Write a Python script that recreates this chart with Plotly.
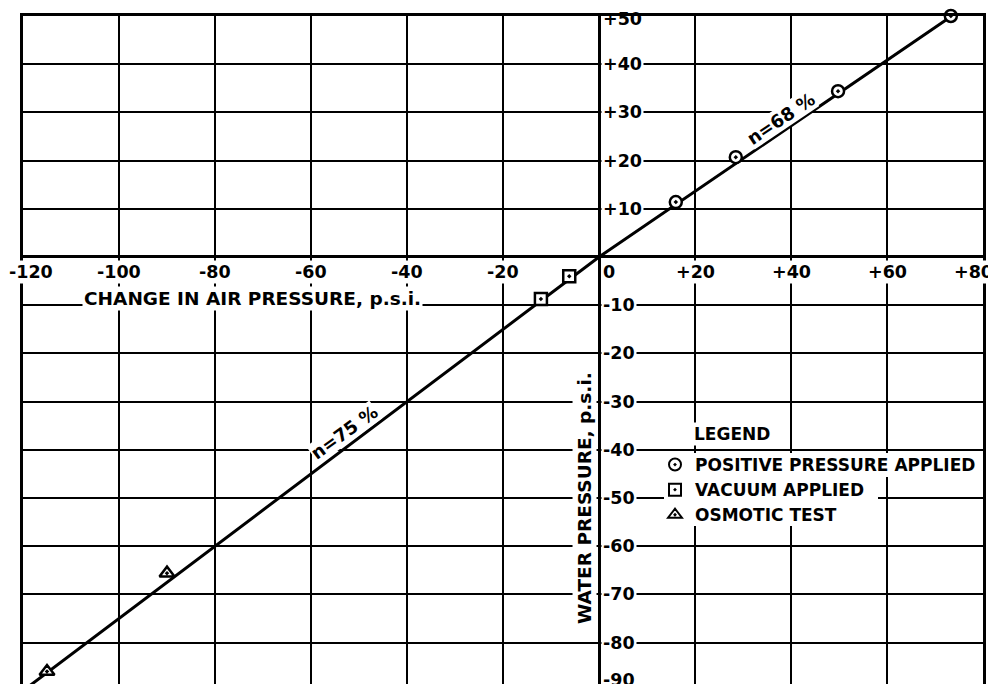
import plotly.graph_objects as go

# ---- data ----
x_ticks = [-120, -100, -80, -60, -40, -20, 0, 20, 40, 60, 80]
x_tick_labels = ["-120", "-100", "-80", "-60", "-40", "-20", "0", "+20", "+40", "+60", "+80"]
y_ticks = [50, 40, 30, 20, 10, -10, -20, -30, -40, -50, -60, -70, -80, -90]
y_tick_labels = ["+50", "+40", "+30", "+20", "+10", "-10", "-20", "-30", "-40",
                 "-50", "-60", "-70", "-80", "-90"]

pos_x = [16.0, 28.5, 49.8, 73.3]      # positive pressure applied
pos_y = [11.4, 20.7, 34.4, 50.0]
vac_x = [-6.2, -12.1]                 # vacuum applied
vac_y = [-4.0, -8.7]
osm_x = [-90.0, -115.0]               # osmotic test
osm_y = [-65.6, -86.0]

fit_x = [-120.0, 0.0, 73.5]           # n=75% below zero, n=68% above zero
fit_y = [-90.0, 0.0, 50.0]

series_names = ["POSITIVE PRESSURE APPLIED", "VACUUM APPLIED", "OSMOTIC TEST"]
line_labels = ["n=68 %", "n=75 %"]
line_label_x = [37.9, -53.1]
line_label_y = [28.8, -36.5]
x_title = "CHANGE IN AIR PRESSURE, p.s.i."
y_title = "WATER PRESSURE, p.s.i."

X_RANGE = [-120, 80]
Y_RANGE = [-88.6, 50]

FONT = "DejaVu Sans"
OFF = 8                     # default page margin around the figure
W, H = 996 - OFF, 684 - OFF
ML, MR, MT, MB = 23 - OFF, 13, 16 - OFF, 0
PW, PH = W - ML - MR, H - MT - MB


def px(xw):
    """window pixel x -> paper fraction"""
    return (xw - OFF - ML) / PW


def py(yw):
    """window pixel y -> paper fraction"""
    return 1 - (yw - OFF - MT) / PH


fig = go.Figure()

fig.add_trace(go.Scatter(x=fit_x, y=fit_y, mode="lines",
                         line=dict(color="black", width=3), showlegend=False,
                         hoverinfo="skip"))

mk_line = dict(color="black", width=2.5)
fig.add_trace(go.Scatter(x=pos_x, y=pos_y, mode="markers", name=series_names[0],
                         marker=dict(symbol="circle-dot", size=12, color="white", line=mk_line),
                         cliponaxis=False))
fig.add_trace(go.Scatter(x=vac_x, y=vac_y, mode="markers", name=series_names[1],
                         marker=dict(symbol="square-dot", size=12, color="white", line=mk_line),
                         cliponaxis=False))
fig.add_trace(go.Scatter(x=osm_x, y=osm_y, mode="markers", name=series_names[2],
                         marker=dict(symbol="triangle-up-dot", size=13, color="white", line=mk_line),
                         cliponaxis=False))

annotations = []
tick_font = dict(family=FONT, size=17.5, color="black", weight="bold")

for v, t in zip(x_ticks, x_tick_labels):
    xa, xs = "center", 0
    if v == 0:
        xa, xs = "left", 2
    elif v == x_ticks[0]:
        xs = 8
    elif v == x_ticks[-1]:
        xs = -10
    annotations.append(dict(x=v, y=0, xref="x", yref="y", text=t, showarrow=False,
                            xanchor=xa, yanchor="middle", xshift=xs, yshift=-15,
                            font=tick_font, bgcolor="white", borderpad=1))

for v, t in zip(y_ticks, y_tick_labels):
    ys = 0
    bg = "white"
    yref, yv = "y", v
    if v == y_ticks[0]:
        ys = -3
        bg = "rgba(0,0,0,0)"
    if v < Y_RANGE[0]:
        # value lies just below the visible range: place it via paper fraction
        yref = "paper"
        yv = (v - Y_RANGE[0]) / (Y_RANGE[1] - Y_RANGE[0])
        ys = 11
    annotations.append(dict(x=0, y=yv, xref="x", yref=yref, text=t, showarrow=False,
                            xanchor="left", yanchor="middle", xshift=2, yshift=ys,
                            font=tick_font, bgcolor=bg, borderpad=1))

title_font = dict(family=FONT, size=18.5, color="black", weight="bold")
annotations.append(dict(x=-72.1, y=-8.7, xref="x", yref="y", text=x_title, showarrow=False,
                        xanchor="center", yanchor="middle", font=title_font,
                        bgcolor="white", borderpad=1))
annotations.append(dict(x=0, y=-50, xref="x", yref="y", text=y_title, showarrow=False,
                        xanchor="center", yanchor="middle", xshift=-14, textangle=-90,
                        font=title_font, bgcolor="white", borderpad=1))

for t, lx, ly, ang in zip(line_labels, line_label_x, line_label_y, [-34, -36]):
    annotations.append(dict(x=lx, y=ly, xref="x", yref="y", text=t, showarrow=False,
                            xanchor="center", yanchor="middle", textangle=ang,
                            font=dict(family=FONT, size=18, color="black", weight="bold"),
                            bgcolor="white", borderpad=0))

annotations.append(dict(x=px(732), y=py(434), xref="paper", yref="paper", text="LEGEND",
                        showarrow=False, xanchor="center", yanchor="middle",
                        font=dict(family=FONT, size=17, color="black", weight="bold"),
                        bgcolor="white", borderpad=1))

# white patches behind the legend rows so grid lines are interrupted there
shapes = []
for x0, x1, y0, y1 in [(664, 980, 453, 477), (664, 878, 477, 501), (664, 848, 501, 526)]:
    shapes.append(dict(type="rect", xref="paper", yref="paper", x0=px(x0), x1=px(x1),
                       y0=py(y1), y1=py(y0), fillcolor="white", line=dict(width=0),
                       layer="above"))

fig.update_layout(
    width=W, height=H,
    margin=dict(l=ML, r=MR, t=MT, b=MB, autoexpand=False),
    plot_bgcolor="white", paper_bgcolor="white",
    annotations=annotations,
    shapes=shapes,
    showlegend=True,
    legend=dict(x=px(655), xanchor="left", y=py(447), yanchor="top",
                bgcolor="rgba(0,0,0,0)", borderwidth=0,
                font=dict(family=FONT, size=17, color="black", weight="bold"),
                traceorder="normal", itemsizing="constant"),
)

fig.update_xaxes(range=X_RANGE, dtick=20, tick0=0, showgrid=True, gridcolor="black",
                 gridwidth=2, zeroline=True, zerolinecolor="black", zerolinewidth=3,
                 showline=True, linecolor="black", linewidth=3, side="top", mirror=False,
                 showticklabels=False, ticks="")
fig.update_yaxes(range=Y_RANGE, dtick=10, tick0=0, showgrid=True, gridcolor="black",
                 gridwidth=2, zeroline=True, zerolinecolor="black", zerolinewidth=3,
                 showline=True, linecolor="black", linewidth=3, mirror=True,
                 showticklabels=False, ticks="")

fig.write_html("out.html")
